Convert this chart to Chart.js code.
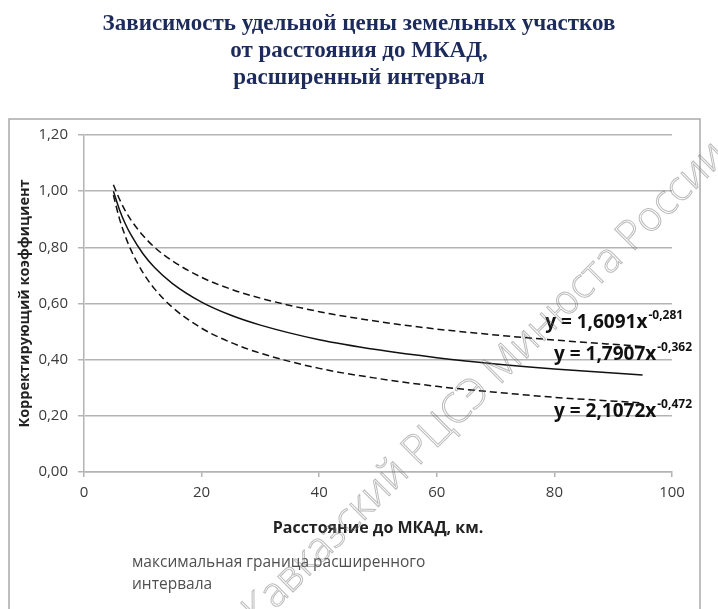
<!DOCTYPE html>
<html>
<head>
<meta charset="utf-8">
<script src="https://cdn.jsdelivr.net/npm/chart.js@4.4.1/dist/chart.umd.min.js"></script>
<style>
  html, body { margin: 0; padding: 0; background: #fff; }
  #wrap { width: 718px; height: 609px; }
</style>
</head>
<body>
<div id="wrap"><canvas id="chart" width="718" height="609"></canvas></div>
<script>
// Зависимость удельной цены земельных участков от расстояния до МКАД

const titleLines = ['Зависимость удельной цены земельных участков', 'от расстояния до МКАД,', 'расширенный интервал'];
const xTitle = 'Расстояние до МКАД, км.';
const yTitle = 'Корректирующий коэффициент';
const noteLines = ['максимальная граница расширенного', 'интервала'];
const watermark = 'Северо-Кавказский РЦСЭ Минюста России';

// distance, km
const distanceKm = [5, 6, 7, 8, 10, 12, 15, 20, 25, 30, 40, 50, 60, 70, 80, 95];
const coefMax = [1.023, 0.973, 0.931, 0.897, 0.843, 0.800, 0.752, 0.693, 0.651, 0.619, 0.571, 0.536, 0.509, 0.488, 0.470, 0.447];
const coefMid = [1.000, 0.936, 0.885, 0.844, 0.778, 0.728, 0.672, 0.605, 0.558, 0.523, 0.471, 0.435, 0.407, 0.385, 0.367, 0.345];
const coefMin = [0.986, 0.904, 0.841, 0.790, 0.711, 0.652, 0.587, 0.512, 0.461, 0.423, 0.369, 0.333, 0.305, 0.284, 0.266, 0.246];

// trend line equations, anchored at (x, y) in data units (right edge, middle)
const eqText = ['y = 1,6091x', 'y = 1,7907x', 'y = 2,1072x'];
const eqPower = ['-0,281', '-0,362', '-0,472'];
const eqX = [101.9, 103.4, 103.4];
const eqY = [0.531, 0.417, 0.214];

const FONT = "'Open Sans', 'DejaVu Sans', sans-serif";
const GRID = '#b4b4b4';

function toPoints(ys) {
  return distanceKm.map((x, i) => ({ x, y: ys[i] }));
}

// page title + outer frame (title is centred on the page, not on the plot)
const framePlugin = {
  id: 'frame',
  beforeDraw(chart) {
    const { ctx, width } = chart;
    ctx.save();
    ctx.strokeStyle = '#a9a9a9';
    ctx.lineWidth = 1.5;
    ctx.strokeRect(9, 119, 691, 520);

    ctx.fillStyle = '#1d2b5c';
    ctx.font = "bold 23px 'Liberation Serif', serif";
    ctx.textAlign = 'center';
    ctx.textBaseline = 'middle';
    titleLines.forEach((t, i) => ctx.fillText(t, width / 2, 24 + i * 27));
    ctx.restore();
  }
};

const labelsPlugin = {
  id: 'eqLabels',
  afterDatasetsDraw(chart) {
    const { ctx, scales: { x, y } } = chart;
    ctx.save();
    ctx.fillStyle = '#111';
    ctx.textBaseline = 'middle';
    for (let i = 0; i < eqText.length; i++) {
      const right = x.getPixelForValue(eqX[i]);
      const mid = y.getPixelForValue(eqY[i]);
      ctx.font = `bold 12px ${FONT}`;
      const supW = ctx.measureText(eqPower[i]).width;
      ctx.textAlign = 'left';
      ctx.fillText(eqPower[i], right - supW, mid - 7);
      ctx.font = `bold 19px ${FONT}`;
      ctx.textAlign = 'right';
      ctx.fillText(eqText[i], right - supW - 1, mid);
    }
    ctx.restore();
  },
  afterDraw(chart) {
    const { ctx } = chart;
    ctx.save();
    ctx.fillStyle = '#505050';
    ctx.font = `15.5px ${FONT}`;
    ctx.textAlign = 'left';
    ctx.textBaseline = 'middle';
    noteLines.forEach((t, i) => ctx.fillText(t, 132, 563 + i * 22));

    // watermark, centred on the word "Минюста"
    ctx.font = `300 41px ${FONT}`;
    const pre = ctx.measureText('Северо-Кавказский РЦСЭ ').width;
    const mw = ctx.measureText('Минюста').width;
    ctx.translate(562, 323);
    ctx.rotate(-45 * Math.PI / 180);
    ctx.textAlign = 'left';
    ctx.textBaseline = 'alphabetic';
    ctx.strokeStyle = 'rgba(120,120,120,0.5)';
    ctx.lineWidth = 1;
    ctx.strokeText(watermark, -(pre + mw / 2), 0);
    ctx.restore();
  }
};

new Chart(document.getElementById('chart'), {
  type: 'line',
  data: {
    datasets: [
      { label: 'max', data: toPoints(coefMax), borderColor: '#111', borderWidth: 1.5, borderDash: [7, 4] },
      { label: 'mid', data: toPoints(coefMid), borderColor: '#111', borderWidth: 1.5 },
      { label: 'min', data: toPoints(coefMin), borderColor: '#111', borderWidth: 1.5, borderDash: [7, 4] },
    ]
  },
  options: {
    responsive: false,
    animation: false,
    elements: { point: { radius: 0 }, line: { tension: 0.4, cubicInterpolationMode: 'monotone' } },
    layout: { padding: { left: 9, right: 46, top: 135, bottom: 69 } },
    plugins: {
      legend: { display: false },
      tooltip: { enabled: false },
      title: { display: false }
    },
    scales: {
      x: {
        type: 'linear',
        min: 0, max: 100,
        afterFit(s) { s.height = 68; },
        ticks: { stepSize: 20, color: '#3a3a3a', font: { family: FONT, size: 15 }, padding: 7, maxRotation: 0 },
        grid: { drawOnChartArea: false, drawTicks: true, tickLength: 5, color: GRID, lineWidth: 1.5 },
        border: { color: GRID, width: 1.5 },
        title: { display: true, text: xTitle, color: '#222', font: { family: FONT, size: 16, weight: 'bold', lineHeight: 1.2 }, padding: { top: 0, bottom: 2 } }
      },
      y: {
        min: 0, max: 1.2,
        afterFit(s) { s.width = 75; },
        ticks: {
          stepSize: 0.2, color: '#3a3a3a', font: { family: FONT, size: 15 }, padding: 10,
          callback: v => v.toFixed(2).replace('.', ',')
        },
        grid: { color: GRID, lineWidth: 1.5, tickLength: 6 },
        border: { color: GRID, width: 1.5 },
        title: { display: true, text: yTitle, color: '#222', font: { family: FONT, size: 14.5, weight: 'bold', lineHeight: 1.2 }, padding: { top: 7, bottom: 0 } }
      }
    }
  },
  plugins: [framePlugin, labelsPlugin]
});
</script>
</body>
</html>
